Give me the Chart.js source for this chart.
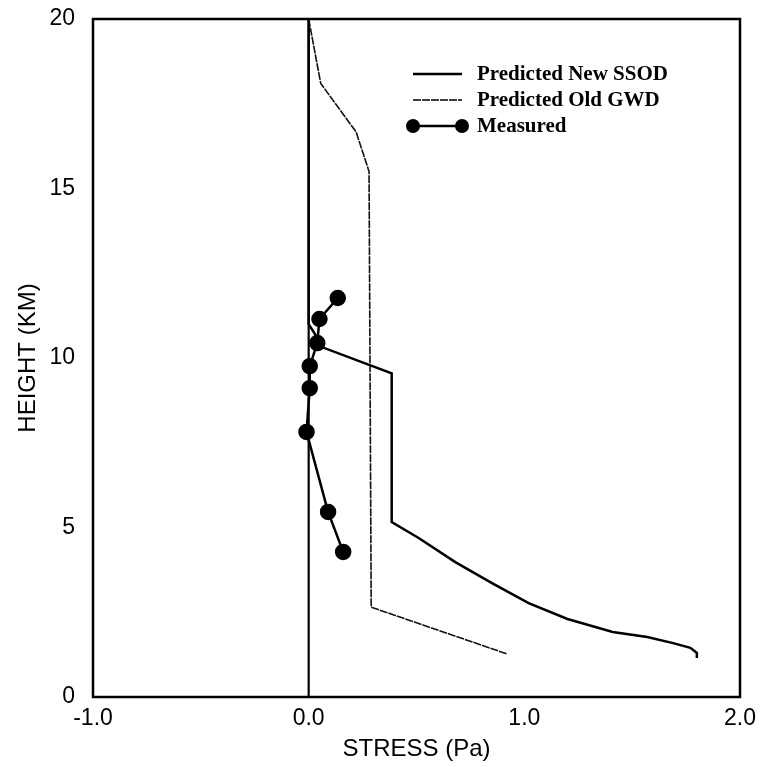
<!DOCTYPE html>
<html>
<head>
<meta charset="utf-8">
<style>
  html, body { margin: 0; padding: 0; background: #fff; }
  #chart { display: block; }
</style>
<script src="https://cdn.jsdelivr.net/npm/chart.js@4.4.1/dist/chart.umd.min.js"></script>
</head>
<body>
<canvas id="chart" width="762" height="767"></canvas>
<script>
// values (stress in Pa, height in km)
const ssodStress = [0, 0, 0.07, 0.385, 0.385, 0.51, 0.68, 0.85, 1.02, 1.20, 1.41, 1.57, 1.69, 1.77, 1.80, 1.80];
const ssodHeight = [20, 11.0, 10.3, 9.55, 5.16, 4.69, 3.98, 3.36, 2.77, 2.30, 1.92, 1.77, 1.59, 1.45, 1.30, 1.15];

const gwdStress = [0, 0.056, 0.22, 0.28, 0.29, 0.92];
const gwdHeight = [20, 18.1, 16.67, 15.5, 2.65, 1.27];

const measStress = [0.135, 0.05, 0.04, 0.005, 0.005, -0.01, 0.09, 0.16];
const measHeight = [11.77, 11.15, 10.44, 9.76, 9.11, 7.82, 5.46, 4.28];

const zeroStress = [0, 0];
const zeroHeight = [0, 20];

const xTicks = [-1, 0, 1, 2];
const yTicks = [0, 5, 10, 15, 20];

function pts(xs, ys) {
  return xs.map((x, i) => ({ x: x, y: ys[i] }));
}

// box around the plot + legend inside top-right
const framePlugin = {
  id: 'frame',
  afterDraw(chart) {
    const { ctx, chartArea: a } = chart;
    ctx.save();
    ctx.strokeStyle = '#000';
    ctx.lineWidth = 2.5;
    ctx.strokeRect(a.left, a.top, a.right - a.left, a.bottom - a.top);

    // legend
    ctx.font = 'bold 21px "Liberation Serif", "Times New Roman", serif';
    ctx.textBaseline = 'middle';
    ctx.fillStyle = '#000';
    const rows = chart.data.datasets.filter(d => d.label);
    rows.forEach((d, i) => {
      const y = 74 + i * 26;
      ctx.strokeStyle = '#000';
      ctx.lineWidth = d.borderWidth;
      ctx.setLineDash(d.borderDash || []);
      ctx.beginPath();
      ctx.moveTo(413, y);
      ctx.lineTo(462, y);
      ctx.stroke();
      ctx.setLineDash([]);
      if (d.pointRadius > 0) {
        [413, 462].forEach(px => {
          ctx.beginPath();
          ctx.arc(px, y, 7, 0, Math.PI * 2);
          ctx.fill();
        });
      }
      ctx.fillText(d.label, 477, y + 1);
    });
    ctx.restore();
  }
};

const ctx = document.getElementById('chart').getContext('2d');
new Chart(ctx, {
  type: 'scatter',
  data: {
    datasets: [
      {
        label: 'Predicted New SSOD',
        data: pts(ssodStress, ssodHeight),
        showLine: true,
        borderColor: '#000',
        borderWidth: 2.5,
        pointRadius: 0,
        tension: 0
      },
      {
        label: 'Predicted Old GWD',
        data: pts(gwdStress, gwdHeight),
        showLine: true,
        borderColor: '#111',
        borderWidth: 1.6,
        borderDash: [8, 1],
        pointRadius: 0,
        tension: 0
      },
      {
        label: 'Measured',
        data: pts(measStress, measHeight),
        showLine: true,
        borderColor: '#000',
        backgroundColor: '#000',
        borderWidth: 2.5,
        pointRadius: 7,
        pointBackgroundColor: '#000',
        tension: 0
      },
      {
        label: '',
        data: pts(zeroStress, zeroHeight),
        showLine: true,
        borderColor: '#000',
        borderWidth: 2.2,
        pointRadius: 0
      }
    ]
  },
  options: {
    responsive: false,
    animation: false,
    layout: {
      padding: { top: 19, right: 22, left: 0, bottom: 0 }
    },
    plugins: {
      legend: { display: false },
      tooltip: { enabled: false }
    },
    scales: {
      x: {
        type: 'linear',
        min: -1,
        max: 2,
        afterBuildTicks: (scale) => { scale.ticks = xTicks.map(v => ({ value: v })); },
        afterFit: (scale) => {
          scale.height = 70;
          scale.paddingLeft = 0;
          scale.paddingRight = 0;
        },
        grid: { display: false, drawTicks: false },
        border: { display: false },
        ticks: {
          padding: 8,
          color: '#000',
          font: { family: '"Liberation Sans", Arial, sans-serif', size: 23 },
          callback: (v) => Number(v).toFixed(1)
        },
        title: {
          display: true,
          text: 'STRESS (Pa)',
          color: '#000',
          padding: { top: 0, bottom: 3 },
          font: { family: '"Liberation Sans", Arial, sans-serif', size: 24 }
        }
      },
      y: {
        type: 'linear',
        min: 0,
        max: 20,
        afterBuildTicks: (scale) => { scale.ticks = yTicks.map(v => ({ value: v })); },
        afterFit: (scale) => {
          scale.width = 93;
          scale.paddingTop = 0;
          scale.paddingBottom = 0;
        },
        grid: { display: false, drawTicks: false },
        border: { display: false },
        ticks: {
          padding: 18,
          color: '#000',
          font: { family: '"Liberation Sans", Arial, sans-serif', size: 23 }
        },
        title: {
          display: true,
          text: 'HEIGHT (KM)',
          color: '#000',
          padding: { top: 14, bottom: 0 },
          font: { family: '"Liberation Sans", Arial, sans-serif', size: 24 }
        }
      }
    }
  },
  plugins: [framePlugin]
});
</script>
</body>
</html>
